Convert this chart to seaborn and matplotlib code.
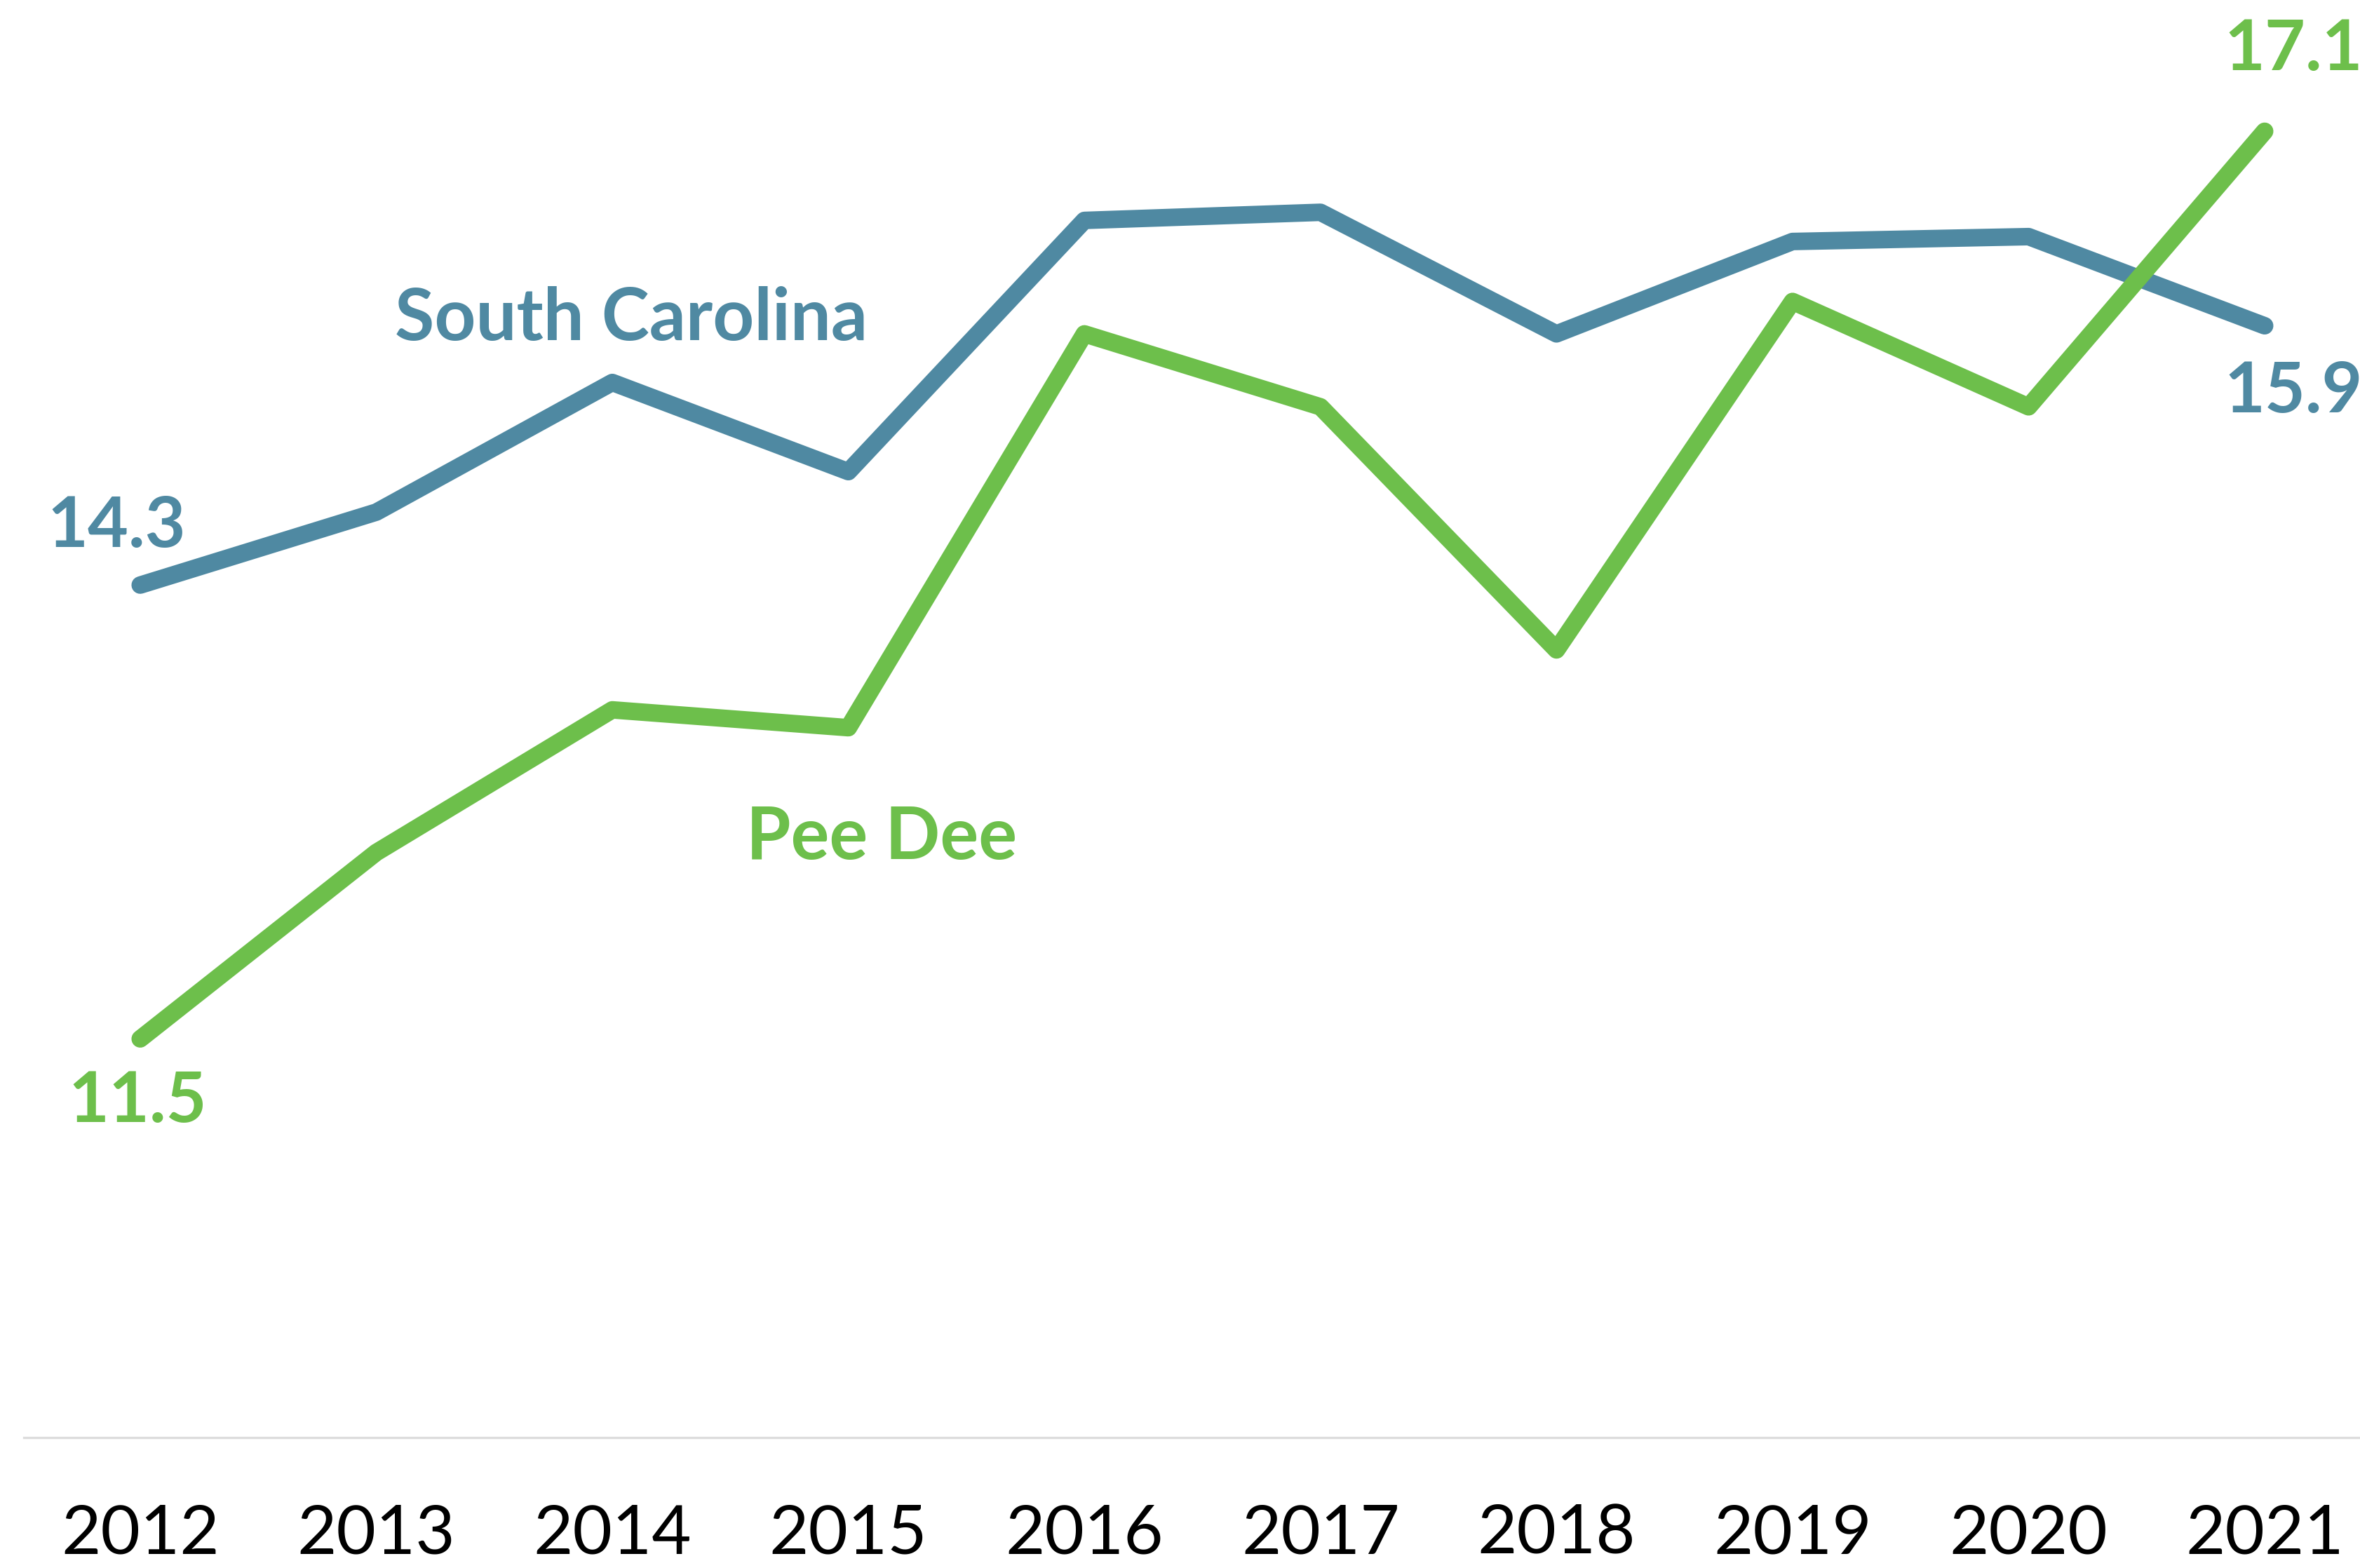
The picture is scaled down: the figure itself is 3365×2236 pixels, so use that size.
import pandas as pd
import matplotlib.pyplot as plt
import seaborn as sns

# Datos
years = [2012, 2013, 2014, 2015, 2016, 2017, 2018, 2019, 2020, 2021]
south_carolina = [14.3, 14.75, 15.55, 15.0, 16.55, 16.6, 15.85, 16.42, 16.45, 15.9]
pee_dee = [11.5, 12.65, 13.53, 13.42, 15.85, 15.4, 13.9, 16.05, 15.4, 17.1]

blue = "#4f89a2"
green = "#6dbf4b"

sns.set_theme(style="white")
plt.rcParams['font.family'] = ['Lato', 'DejaVu Sans']

df = pd.DataFrame({
    "year": years * 2,
    "value": south_carolina + pee_dee,
    "region": ["South Carolina"] * len(years) + ["Pee Dee"] * len(years),
})

fig = plt.figure(figsize=(16.83, 11.18), dpi=200)
ax = fig.add_axes([34 / 3366, (2236 - 2050) / 2236, 1 - 34 / 3366, 2050 / 2236])

sns.lineplot(data=df, x="year", y="value", hue="region",
             palette={"South Carolina": blue, "Pee Dee": green},
             hue_order=["South Carolina", "Pee Dee"],
             linewidth=9, legend=False, ax=ax,
             solid_capstyle="round", solid_joinstyle="round")

ax.set_xlim(2011.507, 2021.407)
ax.set_ylim(9.04, 17.91)
ax.set_xticks(years)
ax.set_xticklabels([str(y) for y in years])
ax.set_yticks([])
ax.set_xlabel("")
ax.set_ylabel("")
ax.tick_params(axis="x", length=0, pad=34, labelsize=35, labelcolor="black")

for side in ["top", "left", "right"]:
    ax.spines[side].set_visible(False)
ax.spines["bottom"].set_color("#dddddd")
ax.spines["bottom"].set_linewidth(1.2)

# Etiquetas de valores
lab = dict(fontsize=36, fontweight="bold", va="center", clip_on=False)
ax.text(2011.90, 14.66, f"{south_carolina[0]}", color=blue, ha="center", **lab)
ax.text(2011.99, 11.11, f"{pee_dee[0]}", color=green, ha="center", **lab)
ax.text(2020.83, 17.60, f"{pee_dee[-1]}", color=green, ha="left", **lab)
ax.text(2020.83, 15.49, f"{south_carolina[-1]}", color=blue, ha="left", **lab)

# Nombres de series
name = dict(lab, fontsize=37)
ax.text(2014.08, 15.94, "South Carolina", color=blue, ha="center", **name)
ax.text(2015.14, 12.74, "Pee Dee", color=green, ha="center", **name)

fig.savefig("out.png", dpi=200, facecolor="white")
